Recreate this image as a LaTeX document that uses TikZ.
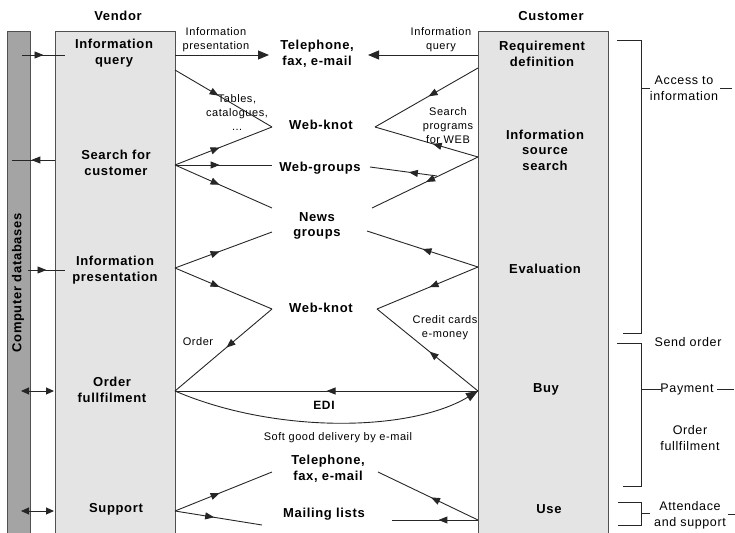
\documentclass[tikz,border=0pt]{standalone}
\usepackage{fontspec}
\setmainfont{Liberation Sans}
\newfontfamily\lblfont[LetterSpace=5]{Liberation Sans}
\usetikzlibrary{arrows.meta,decorations.markings}
\definecolor{boxfill}{HTML}{E4E4E4}
\definecolor{barfill}{HTML}{A4A4A4}
\definecolor{edgec}{HTML}{505050}
\tikzset{
  bl/.style={font=\lblfont\bfseries\fontsize{13}{15.5}\selectfont, align=center, inner sep=0pt},
  sm/.style={font=\lblfont\fontsize{11}{14}\selectfont, align=center, inner sep=0pt},
  rl/.style={font=\lblfont\fontsize{12.5}{16}\selectfont, align=center, inner sep=0pt},
  ln/.style={line width=0.9pt, draw=black!85},
  ma/.style={postaction={decorate}, decoration={markings, mark=at position #1 with {\arrow{Triangle[length=9pt,width=7pt]}}}},
  ma/.default=0.45,
  endarr/.style={-{Triangle[length=11pt,width=9pt]}},
  dbl/.style={{Triangle[length=8pt,width=7pt]}-{Triangle[length=8pt,width=7pt]}},
  colbox/.style={draw=edgec, line width=0.9pt, fill=boxfill},
}
\begin{document}
\begin{tikzpicture}[x=1pt,y=-1pt]
\useasboundingbox (0,0) rectangle (735,532);
% columns
\draw[draw=edgec, line width=0.9pt, fill=barfill] (7,31) rectangle (30,545);
\draw[colbox] (55,31) rectangle (175,545);
\draw[colbox] (478,31) rectangle (608,545);
\node[bl, rotate=90] (db) at (18,283) {Computer databases};
\node[bl] (vendor) at (118,16) {Vendor};
\node[bl] (customer) at (551,16) {Customer};
% vendor labels
\node[bl] (vq) at (114,53) {Information\\query};
\node[bl] (vs) at (116,163) {Search for\\customer};
\node[bl] (vp) at (115,270) {Information\\presentation};
\node[bl] (vo) at (112,390) {Order\\fullfilment};
\node[bl] (vsu) at (116,509) {Support};
% customer labels
\node[bl] (cr) at (542,54) {Requirement\\definition};
\node[bl] (ci) at (545,150) {Information\\source\\search};
\node[bl] (ce) at (545,269) {Evaluation};
\node[bl] (cb) at (546,389) {Buy};
\node[bl] (cu) at (549,509) {Use};
% middle labels
\node[bl] (tel1) at (317,54) {Telephone,\\fax, e-mail};
\node[bl] (wk1) at (321,125) {Web-knot};
\node[bl] (wg) at (320,168) {Web-groups};
\node[bl] (ng) at (317,226) {News\\groups};
\node[bl] (wk2) at (321,308) {Web-knot};
\node[bl, font=\lblfont\bfseries\fontsize{12}{14}\selectfont] (edi) at (324,405) {EDI};
\node[sm] (soft) at (338,438) {Soft good delivery by e-mail};
\node[bl] (tel2) at (328,469) {Telephone,\\fax, e-mail};
\node[bl] (ml) at (324,514) {Mailing lists};
% small labels
\node[sm] (lip) at (216,40) {Information\\presentation};
\node[sm] (liq) at (441,40) {Information\\query};
\node[sm] (ltab) at (237,113) {Tables,\\catalogues,\\\dots};
\node[sm] (lsp) at (448,126) {Search\\programs\\for WEB};
\node[sm] (lord) at (198,342) {Order};
\node[sm] (lcc) at (445,328) {Credit cards\\e-money};
% right labels
\node[rl] (acc) at (684,88) {Access to\\information};
\node[rl] (so) at (688,342) {Send order};
\node[rl] (pay) at (687,389) {Payment};
\node[rl] (of) at (690,438) {Order\\fullfilment};
\node[rl] (att) at (690,515) {Attendace\\and support};
% coordinates
\coordinate (d1) at (22,55);   \coordinate (d1e) at (65,55);
\coordinate (d2) at (12,160);  \coordinate (d2e) at (55,160);
\coordinate (d3) at (28,270);  \coordinate (d3e) at (65,270);
\coordinate (d4) at (21,391);  \coordinate (d4e) at (54,391);
\coordinate (d5) at (21,511);  \coordinate (d5e) at (54,511);
\coordinate (vA) at (175,55);
\coordinate (vA2) at (175,70);
\coordinate (vB) at (175,165);
\coordinate (vC) at (175,268);
\coordinate (vD) at (175,391);
\coordinate (vE) at (175,511);
\coordinate (telL) at (269,55);
\coordinate (telR) at (368,55);
\coordinate (wk1L) at (272,127);
\coordinate (wgL) at (272,165);
\coordinate (ngUL) at (272,208);
\coordinate (ngLL) at (272,232);
\coordinate (wk2L) at (272,309);
\coordinate (cA) at (478,55);
\coordinate (cA2) at (478,68);
\coordinate (wk1R) at (375,127);
\coordinate (cB) at (478,157);
\coordinate (ngUR) at (372,208);
\coordinate (wgR) at (370,167);
\coordinate (wgJ) at (437,176);
\coordinate (cC) at (478,267);
\coordinate (ngLR) at (367,231);
\coordinate (wk2R) at (377,309);
\coordinate (cD) at (478,391);
\coordinate (telbL) at (272,472);
\coordinate (telbR) at (378,472);
\coordinate (mlL) at (262,525);
\coordinate (mlR) at (392,520);
\coordinate (cE) at (478,520);
% database arrows
\draw[ln, ma=0.5] (d1) -- (d1e);
\draw[ln, ma=0.55] (d2e) -- (d2);
\draw[ln, ma=0.5] (d3) -- (d3e);
\draw[ln, dbl] (d4) -- (d4e);
\draw[ln, dbl] (d5) -- (d5e);
% top
\draw[ln, endarr] (vA) -- (telL);
\draw[ln, endarr] (cA) -- (telR);
% vendor side
\draw[ln, ma=0.45] (vA2) -- (wk1L);
\draw[ln, ma=0.46] (vB) -- (wk1L);
\draw[ln, ma=0.46] (vB) -- (wgL);
\draw[ln, ma=0.46] (vB) -- (ngUL);
\draw[ln, ma=0.46] (vC) -- (ngLL);
\draw[ln, ma=0.46] (vC) -- (wk2L);
\draw[ln, ma=0.47] (wk2L) -- (vD);
% customer side
\draw[ln, ma=0.48] (cA2) -- (wk1R);
\draw[ln, ma=0.44] (cB) -- (wk1R);
\draw[ln, ma=0.42] (wgJ) -- (wgR);
\draw[ln, ma=0.49] (cB) -- (ngUR);
\draw[ln, ma=0.5] (cC) -- (ngLR);
\draw[ln, ma=0.48] (cC) -- (wk2R);
\draw[ln, ma=0.48] (cD) -- (wk2R);
% EDI
\draw[ln, ma=0.5] (cD) -- (vD);
\draw[ln, -{Triangle[length=12pt,width=9pt]}] (vD) .. controls (275,434) and (410,432) .. (cD);
% support / use
\draw[ln, ma=0.46] (vE) -- (telbL);
\draw[ln, ma=0.45] (vE) -- (mlL);
\draw[ln, ma=0.47] (cE) -- (telbR);
\draw[ln, ma=0.46] (cE) -- (mlR);
% brackets
\draw[ln] (617,40) -| (641,333) -- (623,333);
\draw[ln] (641,88) -- (650,88);
\draw[ln] (720,88) -- (732,88);
\draw[ln] (617,343) -| (641,486) -- (623,486);
\draw[ln] (641,389) -- (661,389);
\draw[ln] (717,389) -- (734,389);
\draw[ln] (618,502) -| (641,525) -- (618,525);
\draw[ln] (641,513) -- (650,513);
\draw[ln] (728,514) -- (735,514);
\end{tikzpicture}
\end{document}
